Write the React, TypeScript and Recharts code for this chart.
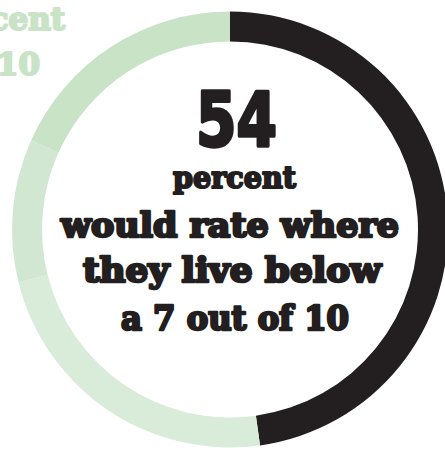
import React from 'react';
import { PieChart, Pie, Cell } from 'recharts';

const groups = ['Rated 7 or above', 'Below 7 (a)', 'Below 7 (b)', 'Below 7 (c)'];
const shares = [47.8, 23.3, 10.6, 18.3];
const colors = ['#231f20', '#d9ebd9', '#d2e7d1', '#c8e3c6'];

const headline = '54';
const subline = 'percent';
const bodyLines = ['would rate where', 'they live below', 'a 7 out of 10'];
const fragmentLines = ['percent', 'out of 10'];

const data = groups.map((g, i) => ({ name: g, value: shares[i] }));

const W = 445;
const H = 451;
const slab = "'DejaVu Serif', serif";

export default function App() {
  return (
    <div style={{ position: 'absolute', left: 0, top: 0, width: W, height: H, background: '#ffffff' }}>
      <PieChart width={W} height={H} margin={{ top: 0, right: 0, bottom: 0, left: 0 }}>
        <Pie
          data={data}
          dataKey="value"
          nameKey="name"
          cx={230}
          cy={229.5}
          innerRadius={188}
          outerRadius={218}
          startAngle={90}
          endAngle={-270}
          stroke="none"
          isAnimationActive={false}
        >
          {data.map((d, i) => (
            <Cell key={d.name} fill={colors[i]} />
          ))}
        </Pie>
      </PieChart>
      <svg width={W} height={H} style={{ position: 'absolute', left: 0, top: 0 }}>
        <text x={65} y={30} textAnchor="end" fontFamily={slab} fontWeight={700} fontSize={31}
          fill="#c8e3c6" stroke="#c8e3c6" strokeWidth={2.2} strokeLinejoin="round">{fragmentLines[0]}</text>
        <text x={40} y={75} textAnchor="end" fontFamily={slab} fontWeight={700} fontSize={31}
          fill="#c8e3c6" stroke="#c8e3c6" strokeWidth={2.2} strokeLinejoin="round">{fragmentLines[1]}</text>
        <text x={196} y={146} textLength={81} lengthAdjust="spacingAndGlyphs"
          fontFamily="'DejaVu Sans', sans-serif" fontWeight={700} fontSize={74}
          fill="#231f20" stroke="#231f20" strokeWidth={3.5} strokeLinejoin="round">{headline}</text>
        <text x={173} y={188} textLength={123} lengthAdjust="spacingAndGlyphs"
          fontFamily={slab} fontWeight={700} fontSize={30}
          fill="#231f20" stroke="#231f20" strokeWidth={2.2} strokeLinejoin="round">{subline}</text>
        <text x={61} y={237} textLength={338} lengthAdjust="spacingAndGlyphs"
          fontFamily={slab} fontWeight={700} fontSize={33}
          fill="#231f20" stroke="#231f20" strokeWidth={2.6} strokeLinejoin="round">{bodyLines[0]}</text>
        <text x={83} y={282} textLength={298} lengthAdjust="spacingAndGlyphs"
          fontFamily={slab} fontWeight={700} fontSize={33}
          fill="#231f20" stroke="#231f20" strokeWidth={2.6} strokeLinejoin="round">{bodyLines[1]}</text>
        <text x={121} y={330} textLength={228} lengthAdjust="spacingAndGlyphs"
          fontFamily={slab} fontWeight={700} fontSize={33}
          fill="#231f20" stroke="#231f20" strokeWidth={2.6} strokeLinejoin="round">{bodyLines[2]}</text>
      </svg>
    </div>
  );
}
